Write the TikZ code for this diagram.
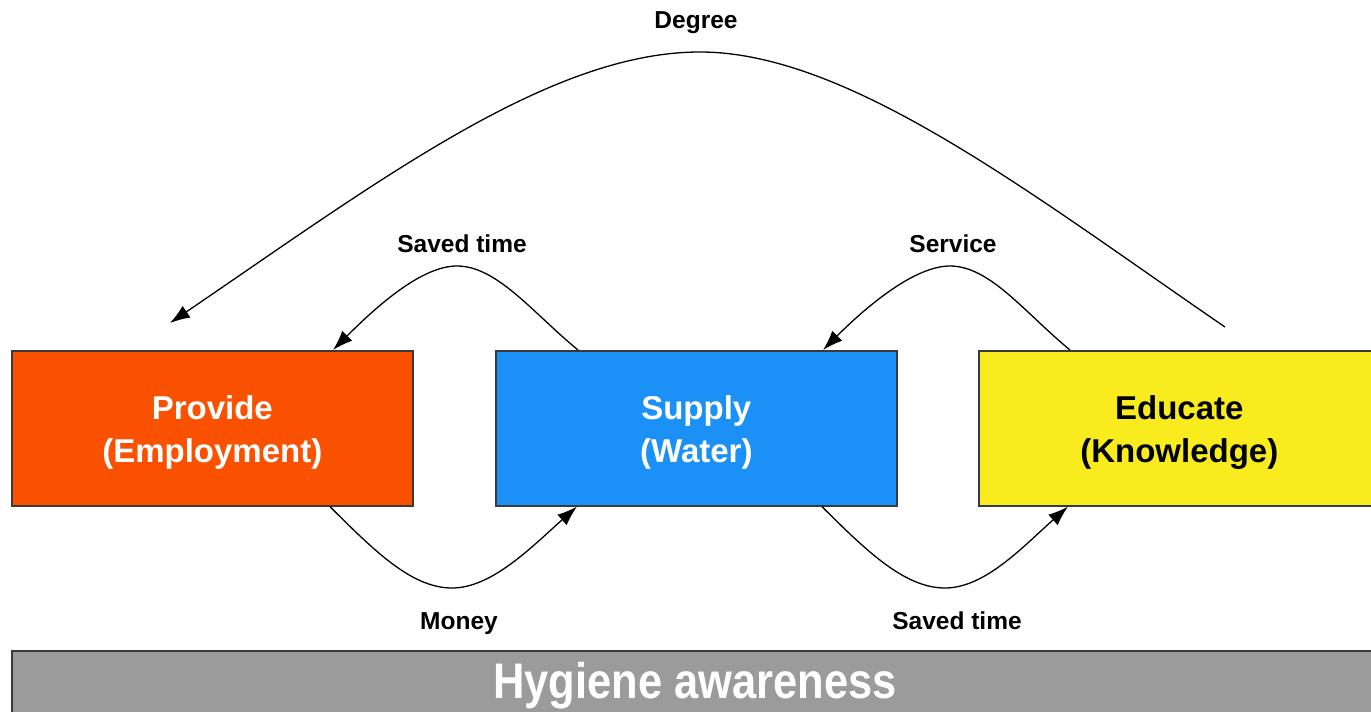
\documentclass[tikz,border=0pt]{standalone}
\usepackage{fontspec}
\setmainfont{Liberation Sans}
\usetikzlibrary{arrows.meta,calc}
\definecolor{cprov}{HTML}{FA5100}
\definecolor{csup}{HTML}{1B91F7}
\definecolor{cedu}{HTML}{F8EC1E}
\definecolor{chyg}{HTML}{9B9B9B}
\definecolor{cedge}{HTML}{3A3A3A}
\tikzset{
  box/.style={draw=cedge, line width=1.6pt, minimum width=401pt, minimum height=155pt,
    anchor=north west, inner sep=0pt},
  boxtext/.style={inner sep=0pt, align=center, font=\fontsize{33}{43}\selectfont\bfseries},
  lab/.style={font=\fontsize{24.5}{28}\selectfont\bfseries, inner sep=0pt, anchor=base},
  conn/.style={line width=1.3pt, -{Latex[length=20pt,width=14pt]}},
  plain/.style={line width=1.3pt}
}
\begin{document}
\begin{tikzpicture}[x=1pt,y=-1pt]
\useasboundingbox (0,0) rectangle (1371,712);
\clip (0,0) rectangle (1371,712);
\fill[white] (0,0) rectangle (1371,712);
\node[box, fill=cprov] (prov) at (11,350) {};
\node[box, fill=csup] (sup) at (495,350) {};
\node[box, fill=cedu] (edu) at (978,350) {};
\node[boxtext, text=white] (provt) at ($(prov.center)+(0,4)$) {Provide\\(Employment)};
\node[boxtext, text=white] (supt) at ($(sup.center)+(0,4)$) {Supply\\(Water)};
\node[boxtext, text=black] (edut) at ($(edu.center)+(0,4)$) {Educate\\(Knowledge)};
\node[draw=cedge, line width=1.6pt, fill=chyg, anchor=north west, minimum width=1368pt,
      minimum height=90pt, inner sep=0pt] (hyg) at (11,650) {};
\node[text=white, font=\fontsize{50}{52}\selectfont\bfseries, inner sep=0pt] (hygt) at (695,686)
      {\scalebox{0.87}[1]{Hygiene awareness}};
% labels
\node[lab] (ldeg) at (696,28) {Degree};
\node[lab] (lst1) at (462,252) {Saved time};
\node[lab] (lser) at (953,252) {Service};
\node[lab] (lmon) at (459,629) {Money};
\node[lab] (lst2) at (957,629) {Saved time};
% connectors
\coordinate (dS) at (1225,327);
\coordinate (dP) at (700,52);
\coordinate (dE) at (170,323);
\draw[plain] (dS) .. controls +(-190,-130) and +(150,0) .. (dP);
\draw[conn] (dP) .. controls +(-150,0) and +(210,-143) .. (dE);
% saved time (top)
\coordinate (p1) at (457,266);
\draw[plain] ($(sup.north west)+(83,0)$) .. controls +(-45,-37) and +(40,0) .. (p1);
\draw[conn] (p1) .. controls +(-35,0) and +(45,-45) .. ($(prov.north west)+(322,0)$);
% service
\coordinate (p2) at (950,266);
\draw[plain] ($(edu.north west)+(92,0)$) .. controls +(-45,-37) and +(40,0) .. (p2);
\draw[conn] (p2) .. controls +(-35,0) and +(45,-45) .. ($(sup.north west)+(328,0)$);
% money
\coordinate (v1) at (452,588);
\draw[plain] ($(prov.south west)+(319,0)$) .. controls +(45,45) and +(-40,0) .. (v1);
\draw[conn] (v1) .. controls +(40,0) and +(-45,40) .. ($(sup.south west)+(82,0)$);
% saved time (bottom)
\coordinate (v2) at (945,588);
\draw[plain] ($(sup.south west)+(327,0)$) .. controls +(45,45) and +(-40,0) .. (v2);
\draw[conn] (v2) .. controls +(40,0) and +(-45,40) .. ($(edu.south west)+(90,0)$);
\end{tikzpicture}
\end{document}
